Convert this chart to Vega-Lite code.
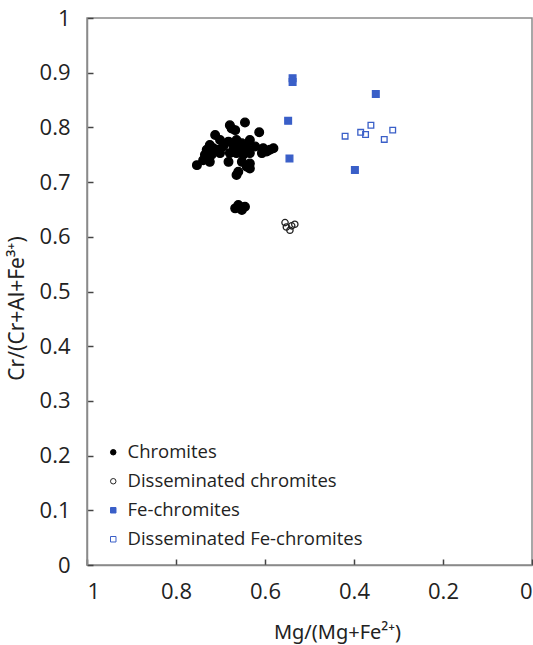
{
  "$schema": "https://vega.github.io/schema/vega-lite/v6.json",
  "width": 445,
  "height": 547,
  "autosize": {"type": "none"},
  "padding": {"left": 87, "top": 18, "right": 1, "bottom": 80},
  "background": "white",
  "config": {
    "view": {"stroke": "#8a8a8a", "strokeWidth": 1.5},
    "font": "Open Sans",
    "axis": {
      "grid": false,
      "ticks": true,
      "zindex": 1,
      "domainColor": "#8a8a8a",
      "domainWidth": 1.5,
      "tickColor": "#444444",
      "tickWidth": 1.5,
      "labelColor": "#222222",
      "titleColor": "#222222",
      "labelFont": "Open Sans",
      "titleFont": "Noto Sans",
      "titleFontWeight": "normal"
    }
  },
  "data": {
    "values": [
      {"x": 0.679, "y": 0.804, "s": "Chromites"},
      {"x": 0.667, "y": 0.795, "s": "Chromites"},
      {"x": 0.645, "y": 0.809, "s": "Chromites"},
      {"x": 0.675, "y": 0.798, "s": "Chromites"},
      {"x": 0.613, "y": 0.791, "s": "Chromites"},
      {"x": 0.712, "y": 0.786, "s": "Chromites"},
      {"x": 0.701, "y": 0.777, "s": "Chromites"},
      {"x": 0.682, "y": 0.774, "s": "Chromites"},
      {"x": 0.664, "y": 0.777, "s": "Chromites"},
      {"x": 0.652, "y": 0.771, "s": "Chromites"},
      {"x": 0.634, "y": 0.777, "s": "Chromites"},
      {"x": 0.724, "y": 0.768, "s": "Chromites"},
      {"x": 0.716, "y": 0.762, "s": "Chromites"},
      {"x": 0.731, "y": 0.759, "s": "Chromites"},
      {"x": 0.705, "y": 0.759, "s": "Chromites"},
      {"x": 0.694, "y": 0.765, "s": "Chromites"},
      {"x": 0.671, "y": 0.765, "s": "Chromites"},
      {"x": 0.656, "y": 0.759, "s": "Chromites"},
      {"x": 0.641, "y": 0.765, "s": "Chromites"},
      {"x": 0.622, "y": 0.765, "s": "Chromites"},
      {"x": 0.604, "y": 0.762, "s": "Chromites"},
      {"x": 0.589, "y": 0.759, "s": "Chromites"},
      {"x": 0.581, "y": 0.762, "s": "Chromites"},
      {"x": 0.735, "y": 0.75, "s": "Chromites"},
      {"x": 0.72, "y": 0.75, "s": "Chromites"},
      {"x": 0.701, "y": 0.753, "s": "Chromites"},
      {"x": 0.679, "y": 0.753, "s": "Chromites"},
      {"x": 0.664, "y": 0.753, "s": "Chromites"},
      {"x": 0.649, "y": 0.75, "s": "Chromites"},
      {"x": 0.634, "y": 0.753, "s": "Chromites"},
      {"x": 0.607, "y": 0.753, "s": "Chromites"},
      {"x": 0.596, "y": 0.756, "s": "Chromites"},
      {"x": 0.753, "y": 0.731, "s": "Chromites"},
      {"x": 0.739, "y": 0.74, "s": "Chromites"},
      {"x": 0.724, "y": 0.737, "s": "Chromites"},
      {"x": 0.682, "y": 0.737, "s": "Chromites"},
      {"x": 0.652, "y": 0.737, "s": "Chromites"},
      {"x": 0.634, "y": 0.734, "s": "Chromites"},
      {"x": 0.641, "y": 0.728, "s": "Chromites"},
      {"x": 0.66, "y": 0.719, "s": "Chromites"},
      {"x": 0.664, "y": 0.713, "s": "Chromites"},
      {"x": 0.634, "y": 0.725, "s": "Chromites"},
      {"x": 0.656, "y": 0.655, "s": "Chromites"},
      {"x": 0.667, "y": 0.652, "s": "Chromites"},
      {"x": 0.645, "y": 0.655, "s": "Chromites"},
      {"x": 0.652, "y": 0.649, "s": "Chromites"},
      {"x": 0.66, "y": 0.658, "s": "Chromites"},
      {"x": 0.555, "y": 0.626, "s": "Disseminated chromites"},
      {"x": 0.533, "y": 0.623, "s": "Disseminated chromites"},
      {"x": 0.544, "y": 0.612, "s": "Disseminated chromites"},
      {"x": 0.552, "y": 0.618, "s": "Disseminated chromites"},
      {"x": 0.54, "y": 0.62, "s": "Disseminated chromites"},
      {"x": 0.538, "y": 0.89, "s": "Fe-chromites"},
      {"x": 0.538, "y": 0.883, "s": "Fe-chromites"},
      {"x": 0.351, "y": 0.861, "s": "Fe-chromites"},
      {"x": 0.548, "y": 0.812, "s": "Fe-chromites"},
      {"x": 0.545, "y": 0.743, "s": "Fe-chromites"},
      {"x": 0.398, "y": 0.722, "s": "Fe-chromites"},
      {"x": 0.42, "y": 0.784, "s": "Disseminated Fe-chromites"},
      {"x": 0.385, "y": 0.791, "s": "Disseminated Fe-chromites"},
      {"x": 0.374, "y": 0.787, "s": "Disseminated Fe-chromites"},
      {"x": 0.362, "y": 0.804, "s": "Disseminated Fe-chromites"},
      {"x": 0.332, "y": 0.778, "s": "Disseminated Fe-chromites"},
      {"x": 0.313, "y": 0.795, "s": "Disseminated Fe-chromites"}
    ]
  },
  "mark": {"type": "point", "opacity": 1, "strokeWidth": 1.3},
  "encoding": {
    "x": {
      "field": "x",
      "type": "quantitative",
      "scale": {"domain": [0, 1], "reverse": true, "nice": false, "zero": false},
      "axis": {
        "title": "Mg/(Mg+Fe²⁺)",
        "values": [0, 0.2, 0.4, 0.6, 0.8, 1],
        "format": "~g",
        "tickSize": -6,
        "labelPadding": 22,
        "labelFontSize": 22,
        "titleFontSize": 20,
        "titleX": 250,
        "titleY": 67,
        "titleBaseline": "middle",
        "titleAnchor": "middle"
      }
    },
    "y": {
      "field": "y",
      "type": "quantitative",
      "scale": {"domain": [0, 1], "nice": false, "zero": false},
      "axis": {
        "title": "Cr/(Cr+Al+Fe³⁺)",
        "values": [0, 0.1, 0.2, 0.3, 0.4, 0.5, 0.6, 0.7, 0.8, 0.9, 1],
        "format": "~g",
        "tickSize": -6,
        "labelPadding": 23,
        "labelFontSize": 22,
        "titleFontSize": 21,
        "titleX": -70,
        "titleY": 290,
        "titleBaseline": "middle",
        "titleAnchor": "middle"
      }
    },
    "shape": {
      "field": "s",
      "type": "nominal",
      "scale": {
        "domain": ["Chromites", "Disseminated chromites", "Fe-chromites", "Disseminated Fe-chromites"],
        "range": ["circle", "circle", "square", "square"]
      },
      "legend": {
        "title": null,
        "orient": "none",
        "legendX": 17,
        "legendY": 425,
        "padding": 0,
        "labelFontSize": 18.5,
        "labelFont": "Open Sans",
        "labelColor": "#222222",
        "labelLimit": 400,
        "symbolSize": 30,
        "symbolStrokeWidth": 1,
        "labelOffset": 5,
        "rowPadding": 10
      }
    },
    "fill": {
      "field": "s",
      "type": "nominal",
      "scale": {
        "domain": ["Chromites", "Disseminated chromites", "Fe-chromites", "Disseminated Fe-chromites"],
        "range": ["#000000", "transparent", "#3a5fc8", "transparent"]
      }
    },
    "stroke": {
      "field": "s",
      "type": "nominal",
      "scale": {
        "domain": ["Chromites", "Disseminated chromites", "Fe-chromites", "Disseminated Fe-chromites"],
        "range": ["#000000", "#222222", "#3a5fc8", "#3a5fc8"]
      }
    },
    "size": {
      "condition": [
        {"test": "datum.s === 'Chromites'", "value": 75},
        {"test": "datum.s === 'Fe-chromites'", "value": 45},
        {"test": "datum.s === 'Disseminated chromites'", "value": 40}
      ],
      "value": 32
    }
  }
}
